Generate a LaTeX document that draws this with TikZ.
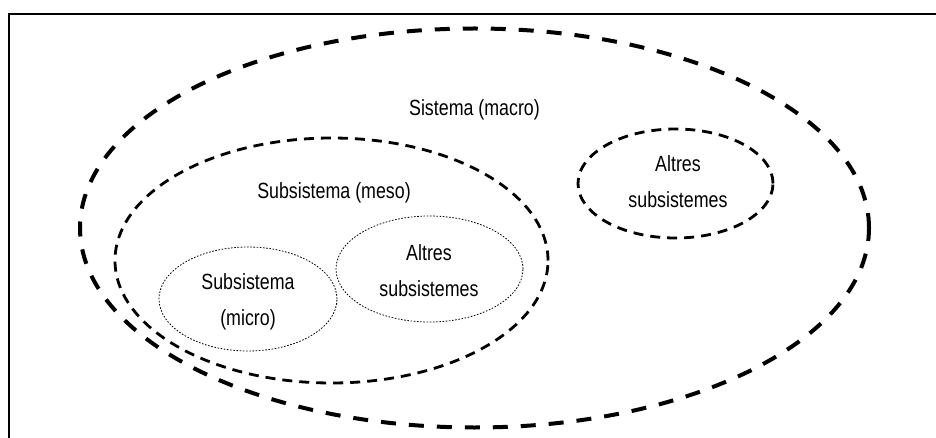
\documentclass[tikz,border=0pt]{standalone}
\usepackage{fontspec}
\setmainfont[FakeStretch=0.81]{Liberation Sans}
\usetikzlibrary{shapes.geometric}
\begin{document}
\begin{tikzpicture}[x=1pt,y=-1pt,
  every node/.style={font=\fontsize{22}{36}\selectfont},
  blob/.style={ellipse, inner sep=0pt, outer sep=0pt},
  heavy/.style={blob, draw, line width=4pt, dash pattern=on 15pt off 13pt},
  medium/.style={blob, draw, line width=2.8pt, dash pattern=on 10pt off 7pt},
  fine/.style={blob, draw, line width=0.8pt, dash pattern=on 1.6pt off 1.6pt},
  caption/.style={align=center, inner sep=0pt}]
\useasboundingbox (0,0) rectangle (936,438);
\draw[line width=2pt] (9,14) rectangle (950,450);

% outer system
\node[heavy, minimum width=789pt, minimum height=399pt] (macro) at (474.5,228) {};
\node[caption] (macrolbl) at (474.5,110) {Sistema (macro)};

% mesosystem
\node[medium, minimum width=433pt, minimum height=245pt] (meso) at (331.5,260.5) {};
\node[caption] (mesolbl) at (334,193) {Subsistema (meso)};

% other subsystems at the top right
\node[medium, minimum width=195pt, minimum height=109pt] (other) at (675.5,183.5) {};
\node[caption] (otherlbl) at (678,181.5) {Altres\\subsistemes};

% microsystem and its neighbour
\node[fine, minimum width=178pt, minimum height=104pt] (micro) at (248,299) {};
\node[caption] (microlbl) at (248,301.5) {Subsistema\\(micro)};
\node[fine, minimum width=187pt, minimum height=106pt] (inner) at (429.5,269) {};
\node[caption] (innerlbl) at (429,270.5) {Altres\\subsistemes};
\end{tikzpicture}
\end{document}
